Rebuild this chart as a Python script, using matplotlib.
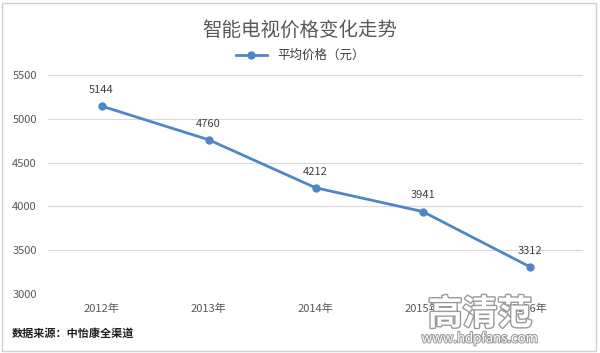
import matplotlib
matplotlib.use("Agg")
import matplotlib.pyplot as plt
import matplotlib.patheffects as pe
from matplotlib.patches import Rectangle

plt.rcParams['font.family'] = ['Noto Sans CJK SC', 'DejaVu Sans']

years = ["2012年", "2013年", "2014年", "2015年", "2016年"]
prices = [5144, 4760, 4212, 3941, 3312]
yticks = [3000, 3500, 4000, 4500, 5000, 5500]
title = "智能电视价格变化走势"
series_name = "平均价格（元）"
source = "数据来源：中怡康全渠道"

fig = plt.figure(figsize=(6, 3.53), dpi=100)
fig.patches.append(Rectangle((0.004, 0.006), 0.99, 0.985, transform=fig.transFigure,
                             fill=False, edgecolor='#d0d0d0', linewidth=1))
ax = fig.add_axes([0.08, 0.167, 0.892, 0.621])
x = list(range(len(years)))
color = '#4f87c6'
ax.plot(x, prices, color=color, linewidth=2, marker='o', markersize=5, label=series_name)
for xi, v in zip(x, prices):
    ax.annotate(str(v), (xi, v), xytext=(0, 8), textcoords='offset points',
                ha='center', va='bottom', fontsize=8, color='#404040')
ax.set_xlim(-0.5, len(years) - 0.5)
ax.set_ylim(3000, 5500)
ax.set_yticks(yticks)
ax.set_xticks(x)
ax.set_xticklabels(years)
ax.tick_params(axis='both', length=0, labelsize=8, colors='#595959')
ax.tick_params(axis='y', pad=8)
ax.tick_params(axis='x', pad=7)
ax.grid(axis='y', color='#d9d9d9', linewidth=0.8)
ax.set_axisbelow(True)
for s in ax.spines.values():
    s.set_visible(False)

fig.text(0.5, 0.915, title, ha='center', va='center', fontsize=14, color='#595959')
leg = fig.legend(loc='center', bbox_to_anchor=(0.5, 0.843), frameon=False, fontsize=9,
                 handlelength=2.5, labelcolor='#404040')
fig.text(0.02, 0.055, source, ha='left', va='center', fontsize=8, color='#202020', fontweight='bold')

wm = fig.text(0.8, 0.11, "高清范", ha='center', va='center', fontsize=25, color='white', fontweight='bold')
wm.set_path_effects([pe.withStroke(linewidth=2, foreground='#9a9a9a')])
wm2 = fig.text(0.8, 0.04, "www.hdpfans.com", ha='center', va='center', fontsize=9.5, color='white')
wm2.set_path_effects([pe.withStroke(linewidth=1.5, foreground='#9a9a9a')])

fig.savefig("out.png", dpi=100)
